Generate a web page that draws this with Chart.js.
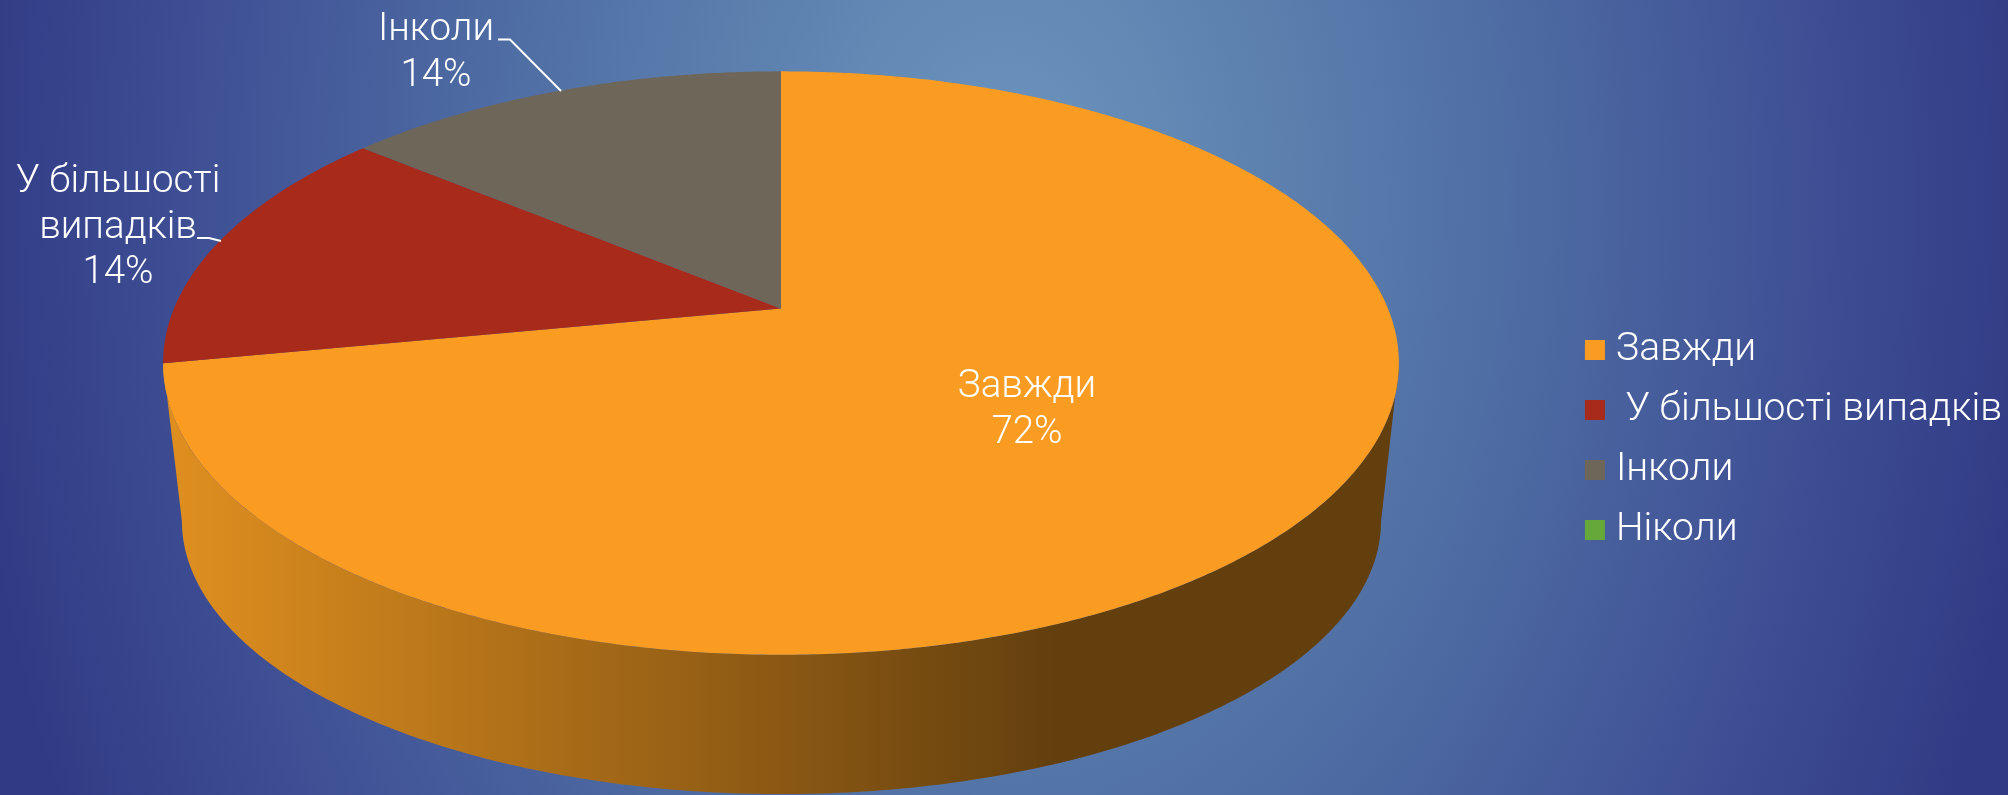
<!DOCTYPE html>
<html><head><meta charset="utf-8">
<style>html,body{margin:0;padding:0;background:#33408a;overflow:hidden}#w{width:2008px;height:795px;position:relative}</style>
<script src="https://cdn.jsdelivr.net/npm/chart.js@4"></script>
</head><body><div id="w"><canvas id="c" width="2008" height="795"></canvas></div>
<script>
const categories = ['Завжди', ' У більшості випадків', 'Інколи', 'Ніколи'];
const values = [72, 14, 14, 0];
const colors = ['#FA9C22', '#A82A1A', '#6F665A', '#66A93A'];
const labelLines = [['Завжди'], ['У більшості', 'випадків'], ['Інколи'], []];
const FONT = '"Roboto", sans-serif';
const LABEL_SIZE = 38.5;
const LEGEND_SIZE = 39;

// perspective disc: top face and base of the pie
const topDisc = {cx: 781, cy: 308.5, a: 607, b: 281.5, k: 0.187};
const baseDisc = {cx: 781.5, cy: 470, a: 589, b: 263.5, k: 0.187};
const project = (d, ang) => { // ang = Chart.js angle
  const X = Math.cos(ang), Y = Math.sin(ang), w = 1 - d.k * Y;
  return [d.cx + d.a * X / w, d.cy + d.b * Y / w];
};
const labelPlace = [
  {x: 1027, y: 397, lead: null},
  {x: 118, y: 192, lead: [[197,238],[209,238],[221,241]]},
  {x: 436, y: 40, lead: [[498,39.5],[510,39.5],[561,91]]},
  null
];

const pie3d = {
  id: 'pie3d',
  beforeDraw(chart) {
    const {ctx} = chart;
    ctx.save();
    ctx.translate(1004, 200);
    ctx.scale(1, 1.4);
    const g = ctx.createRadialGradient(0, 0, 0, 0, 0, 1040);
    g.addColorStop(0, '#6C96BE');
    g.addColorStop(0.24, '#5E82B0');
    g.addColorStop(0.48, '#4F6EA4');
    g.addColorStop(0.77, '#3F5095');
    g.addColorStop(1, '#313B85');
    ctx.fillStyle = g;
    ctx.fillRect(-1100, -300, 2200, 800);
    ctx.restore();
  },
  beforeDatasetDraw(chart) {
    const {ctx} = chart;
    const arcs = chart.getDatasetMeta(0).data;
    // side wall of the slices on the front of the disc
    const wall = ctx.createLinearGradient(182, 0, 1060, 0);
    wall.addColorStop(0, '#DE8E1F');
    wall.addColorStop(1, '#633F0E');
    const front0 = 10.8 * Math.PI / 180;
    arcs.forEach(el => {
      if (el.circumference <= 0) return;
      const s = Math.max(el.startAngle, front0), e = Math.min(el.endAngle, Math.PI - front0);
      if (e <= s) return;
      ctx.beginPath();
      const n = 240;
      for (let i = 0; i <= n; i++) { const p = project(topDisc, s + (e - s) * i / n); i ? ctx.lineTo(p[0], p[1]) : ctx.moveTo(p[0], p[1]); }
      for (let i = n; i >= 0; i--) { const p = project(baseDisc, s + (e - s) * i / n); ctx.lineTo(p[0], p[1]); }
      ctx.closePath(); ctx.fillStyle = wall; ctx.fill();
    });
    // top faces
    arcs.forEach((el, idx) => {
      if (el.circumference <= 0) return;
      ctx.beginPath();
      ctx.moveTo(topDisc.cx, topDisc.cy);
      const n = Math.ceil(el.circumference * 120);
      for (let i = 0; i <= n; i++) { const p = project(topDisc, el.startAngle + el.circumference * i / n); ctx.lineTo(p[0], p[1]); }
      ctx.closePath(); ctx.fillStyle = colors[idx]; ctx.fill();
    });
    return false;
  },
  afterDraw(chart) {
    const {ctx} = chart;
    const total = values.reduce((a, b) => a + b, 0);
    ctx.save();
    ctx.fillStyle = '#fff'; ctx.strokeStyle = '#fff'; ctx.lineWidth = 2;
    ctx.textAlign = 'center'; ctx.textBaseline = 'alphabetic';
    ctx.font = '300 ' + LABEL_SIZE + 'px ' + FONT;
    values.forEach((v, i) => {
      const pl = labelPlace[i];
      if (!pl) return;
      const lines = labelLines[i].concat([Math.round(v / total * 100) + '%']);
      lines.forEach((t, j) => ctx.fillText(t, pl.x, pl.y + j * 45.5));
      if (pl.lead) {
        ctx.beginPath();
        pl.lead.forEach((p, j) => j ? ctx.lineTo(p[0], p[1]) : ctx.moveTo(p[0], p[1]));
        ctx.stroke();
      }
    });
    ctx.restore();
  }
};

new Chart(document.getElementById('c'), {
  type: 'pie',
  data: {labels: categories, datasets: [{data: values, backgroundColor: colors, borderWidth: 0}]},
  plugins: [pie3d],
  options: {
    responsive: false, animation: false,
    layout: {padding: {top: 85, right: -4}},
    plugins: {
      tooltip: {enabled: false},
      legend: {
        position: 'right', align: 'center',
        labels: {
          color: '#fff', font: {family: FONT, size: LEGEND_SIZE, weight: '300'},
          usePointStyle: true, pointStyle: 'rect', boxWidth: 3, boxHeight: 20, padding: 21
        }
      }
    }
  }
});
</script></body></html>
